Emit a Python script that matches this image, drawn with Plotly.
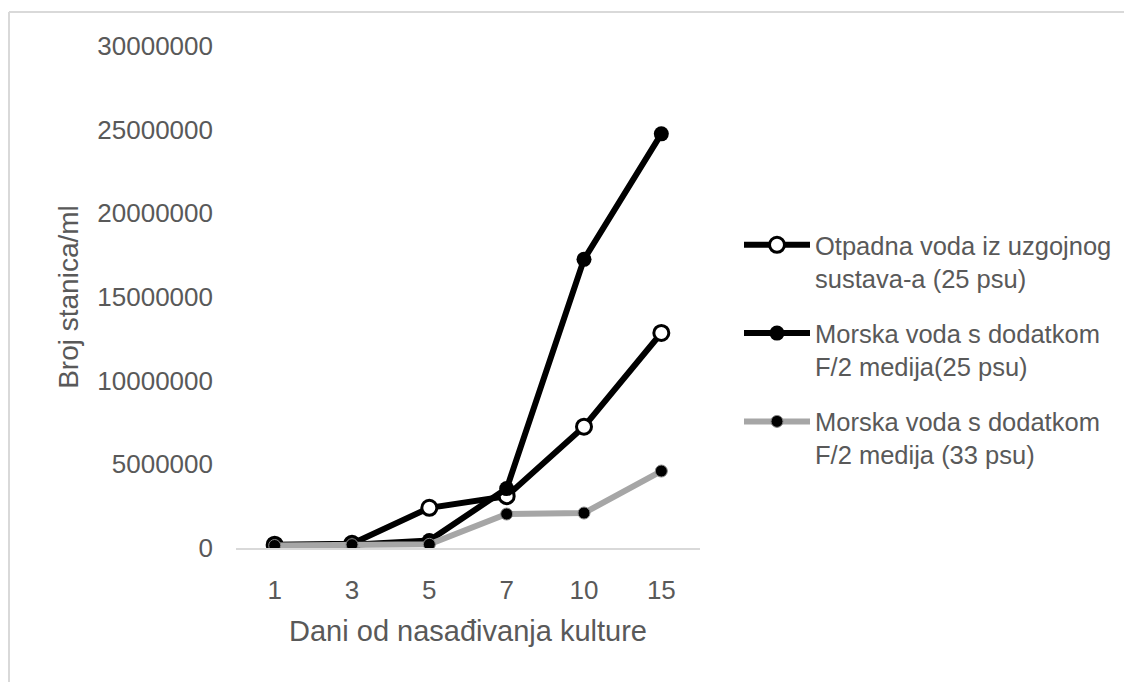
import plotly.graph_objects as go

days = ["1", "3", "5", "7", "10", "15"]
otpadna_25 = [200000, 250000, 2400000, 3100000, 7250000, 12850000]
morska_f2_25 = [150000, 200000, 450000, 3550000, 17250000, 24750000]
morska_f2_33 = [150000, 200000, 220000, 2030000, 2090000, 4600000]

names = [
    "Otpadna voda iz uzgojnog<br>sustava-a (25 psu)",
    "Morska voda s dodatkom<br>F/2 medija(25 psu)",
    "Morska voda s dodatkom<br>F/2 medija (33 psu)",
]

FONT = "Liberation Sans"
GRAY = "#595959"

fig = go.Figure()
fig.add_trace(go.Scatter(
    x=days, y=otpadna_25, name=names[0], legendgroup="a", mode="lines+markers",
    line=dict(color="black", width=6),
    marker=dict(symbol="circle", size=15, color="white", line=dict(color="black", width=3)),
))
fig.add_trace(go.Scatter(
    x=days, y=morska_f2_25, name=names[1], legendgroup="b", mode="lines+markers",
    line=dict(color="black", width=6),
    marker=dict(symbol="circle", size=15, color="black"),
))
fig.add_trace(go.Scatter(
    x=days, y=morska_f2_33, name=names[2], legendgroup="c", mode="lines+markers",
    line=dict(color="#a6a6a6", width=6),
    marker=dict(symbol="circle", size=12, color="black", line=dict(color="#888888", width=1)),
))

fig.update_layout(
    width=1124, height=682,
    margin=dict(l=236, r=424, t=46, b=134, autoexpand=False),
    paper_bgcolor="white", plot_bgcolor="white",
    font=dict(family=FONT, color=GRAY, size=26),
    showlegend=True,
    legend=dict(
        x=(739 - 236) / 464, y=0.65, xanchor="left", yanchor="top",
        font=dict(family=FONT, color=GRAY, size=25.5),
        valign="top", tracegroupgap=19, itemwidth=66,
        bgcolor="rgba(0,0,0,0)",
    ),
    xaxis=dict(
        type="category", range=[-0.5, 5.5], showgrid=False, zeroline=False,
        showline=True, linecolor="#d9d9d9", linewidth=2,
        ticks="", tickfont=dict(size=26, color=GRAY),
        ticklabelstandoff=18,
        title=dict(text="Dani od nasađivanja kulture", font=dict(size=29, color=GRAY), standoff=16),
    ),
    yaxis=dict(
        range=[0, 30000000], dtick=5000000, tickformat="d",
        showgrid=False, zeroline=False, showline=False,
        ticks="", tickfont=dict(size=26, color=GRAY),
        ticklabelstandoff=22,
        title=dict(text="Broj stanica/ml", font=dict(size=28, color=GRAY), standoff=10),
    ),
    shapes=[
        dict(type="line", xref="paper", yref="paper",
             x0=(9 - 236) / 464, x1=(1130 - 236) / 464,
             y0=(548 - 12) / 502, y1=(548 - 12) / 502,
             line=dict(color="#d9d9d9", width=2)),
        dict(type="line", xref="paper", yref="paper",
             x0=(9 - 236) / 464, x1=(9 - 236) / 464,
             y0=(548 - 12) / 502, y1=(548 - 690) / 502,
             line=dict(color="#d9d9d9", width=2)),
    ],
)

fig.write_html(
    "out.html",
    config={"displayModeBar": False},
    post_script="document.body.style.margin='0';document.body.style.overflow='hidden';",
)
